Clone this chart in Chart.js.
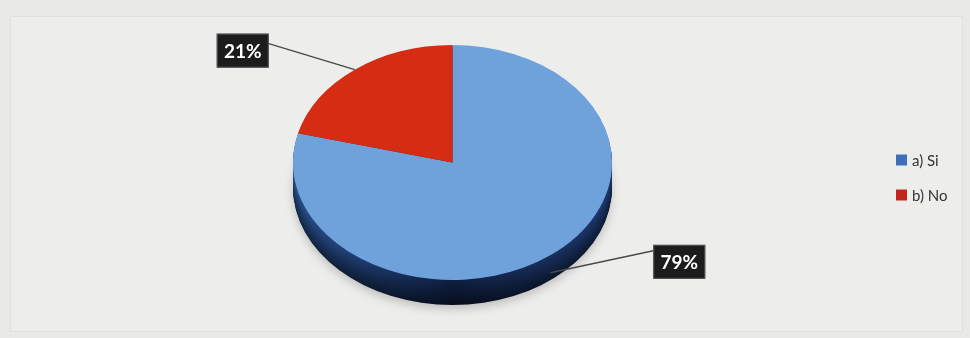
<!DOCTYPE html>
<html><head><meta charset="utf-8">
<script src="https://cdn.jsdelivr.net/npm/chart.js@4/dist/chart.umd.min.js"></script>
<style>
html,body{margin:0;padding:0;background:#e9eae8;}
#wrap{position:relative;width:970px;height:338px;}
canvas{display:block;}
</style></head><body>
<div id="wrap"><canvas id="c" width="970" height="338"></canvas></div>
<script>
// ---- data ----
const categories = ['a) Si', 'b) No'];
const values = [79, 21];
const percentLabels = ['79%', '21%'];

// ---- styles ----
const topColors = ['#6fa2db', '#d62c14'];
const sideStops = [['#2a5394', '#0f1f42', '#1f3c74'], ['#8a1a0c', '#5a0f06', '#7a1509']];
const legendColors = ['#3c70b7', '#c3241a'];
const tilt = 117.5 / 159.5;
const depth = 25;

function mix(hex, f) {
  const n = parseInt(hex.slice(1), 16);
  const r = Math.round(((n >> 16) & 255) * f), g = Math.round(((n >> 8) & 255) * f), b = Math.round((n & 255) * f);
  return `rgb(${r},${g},${b})`;
}

const backgroundPlugin = {
  id: 'panel',
  beforeDraw(chart) {
    const ctx = chart.ctx;
    ctx.save();
    ctx.fillStyle = '#edeeec';
    ctx.fillRect(10, 16, 952, 315);
    ctx.strokeStyle = '#e0e1df';
    ctx.lineWidth = 1;
    ctx.strokeRect(10.5, 16.5, 952, 315);
    ctx.restore();
  }
};

const pie3d = {
  id: 'pie3d',
  beforeDatasetsDraw(chart) {
    const ctx = chart.ctx;
    const arcs = chart.getDatasetMeta(0).data;
    const cx = arcs[0].x, cy = arcs[0].y;
    for (let d = depth; d >= 1; d--) {
      ctx.save();
      ctx.translate(cx, cy + d);
      ctx.scale(1, tilt);
      if (d === depth) {
        ctx.shadowColor = 'rgba(0,0,0,0.2)';
        ctx.shadowBlur = 10;
        ctx.shadowOffsetY = 4;
      }
      const t = d / depth;
      const f = 1 - 0.55 * t;
      arcs.forEach((a, i) => {
        const r = a.outerRadius;
        const g = ctx.createLinearGradient(-r, 0, r, 0);
        g.addColorStop(0, mix(sideStops[i][0], f));
        g.addColorStop(0.5, mix(sideStops[i][1], f));
        g.addColorStop(1, mix(sideStops[i][2], f));
        ctx.beginPath();
        ctx.moveTo(0, 0);
        ctx.arc(0, 0, r, a.startAngle, a.endAngle);
        ctx.closePath();
        ctx.fillStyle = g;
        ctx.fill();
      });
      ctx.restore();
    }
    ctx.save();
    ctx.translate(cx, cy);
    ctx.scale(1, tilt);
    ctx.translate(-cx, -cy);
  },
  afterDatasetsDraw(chart) {
    chart.ctx.restore();
  }
};

const labelPlugin = {
  id: 'labels3d',
  afterDraw(chart, args, opts) {
    const ctx = chart.ctx;
    const arcs = chart.getDatasetMeta(0).data;
    arcs.forEach((a, i) => {
      const mid = (a.startAngle + a.endAngle) / 2;
      const ax = a.x + a.outerRadius * Math.cos(mid);
      let ay = a.y + a.outerRadius * Math.sin(mid) * tilt;
      if (Math.sin(mid) > 0) ay += depth * 0.7;
      const off = opts.offsets[i];
      const bw = 52, bh = 34;
      const bx = ax + off[0] - bw / 2, by = ay + off[1] - bh / 2;
      const front = Math.cos(mid) > 0;
      const lx = front ? bx : bx + bw;
      const ly = front ? by + 6 : by + 10;
      ctx.save();
      ctx.strokeStyle = '#4a4a4a';
      ctx.lineWidth = 1.5;
      ctx.beginPath();
      ctx.moveTo(ax, ay);
      ctx.lineTo(lx, ly);
      ctx.stroke();
      ctx.fillStyle = '#1c1c1c';
      ctx.fillRect(bx, by, bw, bh);
      ctx.strokeStyle = '#5a5a5a';
      ctx.lineWidth = 1;
      ctx.strokeRect(bx + 0.5, by + 0.5, bw - 1, bh - 1);
      ctx.fillStyle = '#ffffff';
      ctx.font = 'bold 19px Lato, "Open Sans", sans-serif';
      ctx.textAlign = 'center';
      ctx.textBaseline = 'middle';
      ctx.fillText(percentLabels[i], bx + bw / 2, by + bh / 2 + 1);
      ctx.restore();
    });
  }
};

const legendPlugin = {
  id: 'sideLegend',
  afterDraw(chart) {
    const ctx = chart.ctx;
    ctx.save();
    ctx.font = '15px Lato, "Open Sans", sans-serif';
    ctx.textBaseline = 'middle';
    ctx.textAlign = 'left';
    chart.data.labels.forEach((lab, i) => {
      const y = 160 + i * 35;
      ctx.fillStyle = legendColors[i];
      ctx.fillRect(896, y - 5.5, 11, 11);
      ctx.fillStyle = '#333333';
      ctx.fillText(lab, 912, y + 1);
    });
    ctx.restore();
  }
};

new Chart(document.getElementById('c'), {
  type: 'pie',
  data: {
    labels: categories,
    datasets: [{
      data: values,
      backgroundColor: topColors,
      borderWidth: 0,
      hoverOffset: 0
    }]
  },
  options: {
    responsive: false,
    animation: false,
    events: [],
    rotation: 0,
    layout: { padding: { left: 293, right: 358, top: 3, bottom: 16 } },
    plugins: {
      legend: { display: false },
      tooltip: { enabled: false },
      labels3d: { offsets: [[129, -11], [-112, -19]] }
    }
  },
  plugins: [backgroundPlugin, pie3d, labelPlugin, legendPlugin]
});
</script>
</body></html>
